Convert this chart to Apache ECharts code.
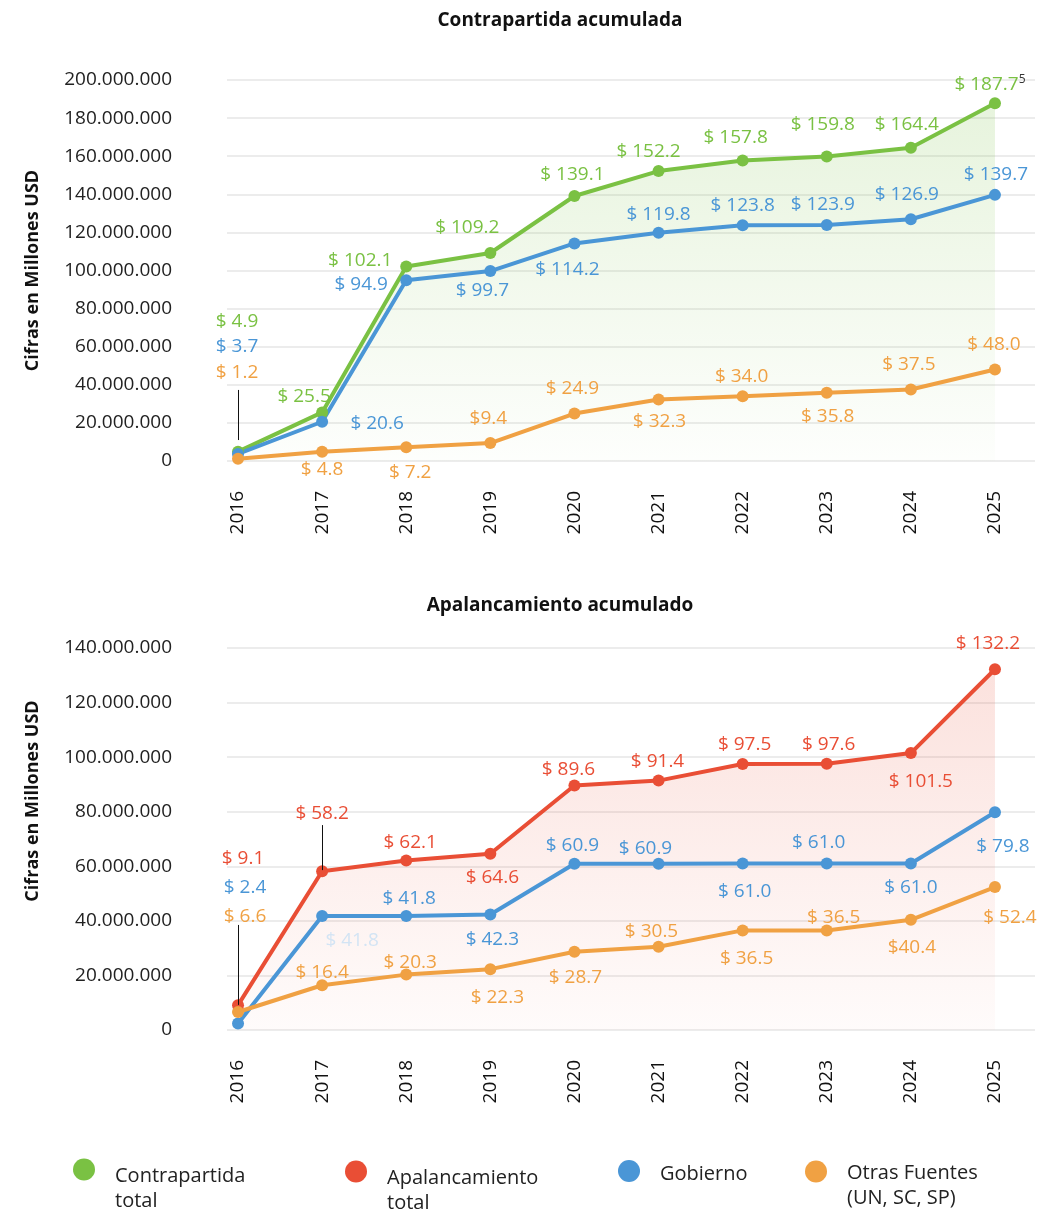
<!DOCTYPE html>
<html>
<head>
<meta charset="utf-8">
<title>Contrapartida y apalancamiento acumulado</title>
<script src="https://cdn.jsdelivr.net/npm/echarts@6.0.0/dist/echarts.min.js"></script>
<style>
  html, body { margin: 0; padding: 0; background: #fff; }
  #chart { width: 1061px; height: 1213px; }
</style>
</head>
<body>
<div id="chart"></div>
<script>
// años (eje X)
const years = ['2016', '2017', '2018', '2019', '2020', '2021', '2022', '2023', '2024', '2025'];

// Contrapartida acumulada (millones USD)
const contrapartidaTotal = [4.9, 25.5, 102.1, 109.2, 139.1, 152.2, 157.8, 159.8, 164.4, 187.75];
const gobiernoContra = [3.7, 20.6, 94.9, 99.7, 114.2, 119.8, 123.8, 123.9, 126.9, 139.7];
const otrasContra = [1.2, 4.8, 7.2, 9.4, 24.9, 32.3, 34.0, 35.8, 37.5, 48.0];

// Apalancamiento acumulado (millones USD)
const apalancamientoTotal = [9.1, 58.2, 62.1, 64.6, 89.6, 91.4, 97.5, 97.6, 101.5, 132.2];
const gobiernoApal = [2.4, 41.8, 41.8, 42.3, 60.9, 60.9, 61.0, 61.0, 61.0, 79.8];
const otrasApal = [6.6, 16.4, 20.3, 22.3, 28.7, 30.5, 36.5, 36.5, 40.4, 52.4];

// escala de los ejes Y (millones)
const yMaxContra = 200;
const yMaxApal = 140;
const yStep = 20;

// colores
const VERDE = '#7ac143';
const AZUL = '#4a96d6';
const NARANJA = '#f0a143';
const ROJO = '#e94e35';
const FONT = '"Open Sans", "Noto Sans", sans-serif';

// posición de cada etiqueta [dx, dy] respecto al punto
const offVerde = [[-1,-130],[-18,-16],[-46,-6],[-23,-25],[-2,-21],[-10,-19],[-7,-23],[-4,-32],[-4,-23],[-5,-19]];
const offAzul1 = [[-1,-107],[55,2],[-45,4],[-8,20],[-7,26],[0,-18],[0,-20],[-4,-20],[-4,-25],[1,-20]];
const offNaranja1 = [[-1,-86],[0,18],[4,25],[-2,-24],[-2,-25],[1,22],[-1,-20],[1,24],[-2,-25],[-1,-25]];
const offRojo = [[5,-147],[0,-58],[4,-18],[2,24],[-6,-16],[-1,-19],[2,-19],[2,-19],[10,29],[-7,-26]];
const offAzul2 = [[7,-136],[30,25],[3,-17],[2,25],[-2,-18],[-13,-15],[2,28],[-8,-21],[0,24],[8,34]];
const offNaranja2 = [[7,-95],[0,-13],[4,-12],[7,28],[1,26],[-7,-15],[4,28],[7,-13],[1,28],[15,31]];

// etiquetas sin espacio tras el "$"
const sinEspacio = { 'Otras Fuentes (UN, SC, SP)|0|3': true, 'Otras Fuentes (UN, SC, SP)|1|8': true };

const miles = v => v === 0 ? '0' : String(Math.round(v * 1e6)).replace(/\B(?=(\d{3})+(?!\d))/g, '.');

function serie(name, color, values, offs, idx, extra) {
  return Object.assign({
    name: name,
    type: 'line',
    xAxisIndex: idx,
    yAxisIndex: idx,
    symbol: 'circle',
    symbolSize: 12,
    lineStyle: { width: 4, color: color },
    itemStyle: { color: color },
    emphasis: { disabled: true },
    data: values.map((v, i) => ({ value: [i, v], label: { offset: offs[i] } })),
    label: {
      show: true,
      position: 'inside',
      color: color,
      fontSize: 19,
      fontFamily: FONT,
      formatter: p => {
        const sep = sinEspacio[name + '|' + idx + '|' + p.dataIndex] ? '$' : '$ ';
        return sep + p.value[1].toFixed(1);
      }
    }
  }, extra || {});
}

function area(color, a0, a1) {
  return {
    color: new echarts.graphic.LinearGradient(0, 0, 0, 1, [
      { offset: 0, color: color.replace('A', a0) },
      { offset: 1, color: color.replace('A', a1) }
    ])
  };
}

const guia = {
  silent: true,
  symbol: 'none',
  label: { show: false },
  emphasis: { disabled: true },
  lineStyle: { color: '#111', width: 1, type: 'solid' }
};

// eje X numérico (índice del año) para que la rejilla sobresalga de los puntos
function ejeX(idx) {
  return {
    type: 'value',
    gridIndex: idx,
    min: -0.131,
    max: 9.476,
    axisLine: { show: false },
    axisTick: { show: false },
    splitLine: { show: false },
    axisLabel: {
      customValues: years.map((y, i) => i),
      formatter: v => years[Math.round(v)],
      rotate: 90, margin: 30, fontSize: 19, color: '#111', fontFamily: FONT
    }
  };
}

function ejeY(idx, max, pad) {
  return {
    type: 'value',
    gridIndex: idx,
    min: 0,
    max: max,
    interval: yStep,
    name: 'Cifras en Millones USD',
    nameLocation: 'middle',
    nameGap: 185,
    nameTextStyle: { fontSize: 18, fontWeight: 'bold', color: '#111', fontFamily: FONT, padding: pad },
    axisLine: { show: false },
    axisTick: { show: false },
    axisLabel: { margin: 55, fontSize: 19, color: '#222', fontFamily: FONT, formatter: miles },
    splitLine: { lineStyle: { color: '#e6e6e6', width: 1.5 } }
  };
}

// leyenda: una línea vacía de alto "sp" baja el texto respecto al círculo
function leyenda(name, lineas, left, top, sp) {
  return {
    data: [name],
    left: left,
    top: top,
    padding: 0,
    icon: 'circle',
    itemWidth: 22,
    itemHeight: 22,
    selectedMode: false,
    formatter: () => '{sp| }\n' + lineas.map(l => '{t|' + l + '}').join('\n'),
    textStyle: {
      padding: [0, 0, 0, 15],
      rich: {
        sp: { fontSize: 1, lineHeight: sp },
        t: { fontSize: 20, color: '#222', fontFamily: FONT, lineHeight: 25 }
      }
    }
  };
}

const verde = serie('Contrapartida total', VERDE, contrapartidaTotal, offVerde, 0, {
  areaStyle: area('rgba(122,193,67,A)', 0.26, 0.02),
  markLine: Object.assign({ data: [[{ coord: [0, 11] }, { coord: [0, 37.3] }]] }, guia)
});
// etiqueta 187.75 con el "5" volado
verde.data[9].label.formatter = '{a|$ 187.7}{s|5}';
verde.data[9].label.rich = {
  a: { color: VERDE, fontSize: 19, fontFamily: FONT },
  s: { color: '#333', fontSize: 12, fontFamily: FONT, padding: [0, 0, 10, 0] }
};

const rojo = serie('Apalancamiento total', ROJO, apalancamientoTotal, offRojo, 1, {
  areaStyle: area('rgba(233,78,53,A)', 0.24, 0.03),
  markLine: Object.assign({
    data: [
      [{ coord: [0, 9.2] }, { coord: [0, 38.5] }],
      [{ coord: [1, 58.6] }, { coord: [1, 75.1] }]
    ]
  }, guia)
});

const azul2 = serie('Gobierno', AZUL, gobiernoApal, offAzul2, 1);
// etiqueta casi transparente en 2017
azul2.data[1].label.color = '#d3e4f4';

const option = {
  animation: false,
  backgroundColor: '#fff',
  textStyle: { fontFamily: FONT },
  title: [
    { text: 'Contrapartida acumulada', left: 555, top: 6, textAlign: 'center',
      textStyle: { fontSize: 19, fontWeight: 'bold', color: '#111', fontFamily: FONT } },
    { text: 'Apalancamiento acumulado', left: 555, top: 591, textAlign: 'center',
      textStyle: { fontSize: 19, fontWeight: 'bold', color: '#111', fontFamily: FONT } }
  ],
  grid: [
    { left: 227, right: 26, top: 80, height: 381 },
    { left: 227, right: 26, top: 648, height: 382 }
  ],
  xAxis: [ejeX(0), ejeX(1)],
  yAxis: [ejeY(0, yMaxContra, 0), ejeY(1, yMaxApal, [0, 0, 0, 76])],
  legend: [
    leyenda('Contrapartida total', ['Contrapartida', 'total'], 73, 1144, 39),
    leyenda('Apalancamiento total', ['Apalancamiento', 'total'], 345, 1146, 39),
    leyenda('Gobierno', ['Gobierno'], 618, 1158, 6),
    leyenda('Otras Fuentes (UN, SC, SP)', ['Otras Fuentes', '(UN, SC, SP)'], 805, 1146, 29)
  ],
  series: [
    verde,
    serie('Gobierno', AZUL, gobiernoContra, offAzul1, 0),
    serie('Otras Fuentes (UN, SC, SP)', NARANJA, otrasContra, offNaranja1, 0),
    rojo,
    azul2,
    serie('Otras Fuentes (UN, SC, SP)', NARANJA, otrasApal, offNaranja2, 1)
  ]
};

const chart = echarts.init(document.getElementById('chart'));
chart.setOption(option);
</script>
</body>
</html>
